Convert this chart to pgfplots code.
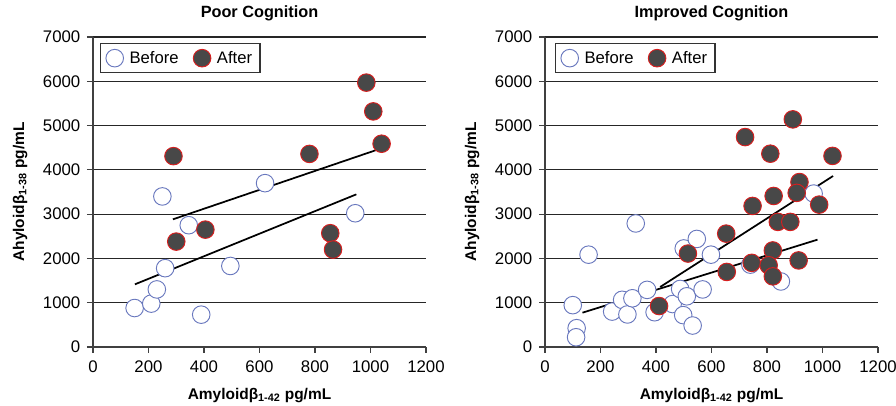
\documentclass[border=0pt]{standalone}
\usepackage{fontspec}
\setmainfont{Liberation Sans}
\usepackage{pgfplots}
\pgfplotsset{compat=1.18}
\newcommand\tickfont{\fontsize{12.6}{14}\selectfont}
\newcommand\legfont{\fontsize{12.5}{14}\selectfont}
\definecolor{beforeblue}{RGB}{105,120,190}
\definecolor{afterfill}{RGB}{72,72,72}
\definecolor{afterred}{RGB}{215,30,30}
\pgfplotsset{
  mystyle/.style={
    scale only axis, width=249.75pt, height=232.5pt,
    xmin=0, xmax=1200, ymin=0, ymax=7000,
    xtick={0,200,...,1200}, ytick={0,1000,...,7000},
    axis x line*=bottom, axis y line*=left,
    axis line style={-, line width=0.8pt, black!75},
    ymajorgrids, grid style={black!85, line width=0.8pt},
    tick style={black!75, line width=0.8pt}, tick align=outside, major tick length=4.5pt,
    /pgf/number format/assume math mode=true,
    /pgf/number format/1000 sep={},
    xticklabel={\tickfont\pgfmathprintnumber{\tick}},
    yticklabel={\tickfont\pgfmathprintnumber{\tick}},
    xticklabel style={yshift=-2pt},
    yticklabel style={xshift=-1.5pt},
    xlabel={\fontsize{11.6}{14}\selectfont\bfseries Amyloidβ\textsubscript{1-42} pg/mL},
    ylabel={\fontsize{11.6}{14}\selectfont\bfseries Ahyloidβ\textsubscript{1-38} pg/mL},
    every axis x label/.style={at={(axis description cs:0.5,-0.155)}, anchor=center},
    every axis y label/.style={at={(axis description cs:-0.219,0.5)}, anchor=center, rotate=90},
    title style={at={(axis description cs:0.5,1.052)}, anchor=center},
    legend columns=2,
    legend style={anchor=north west, draw=black!80, line width=0.9pt, font=\legfont,
      /tikz/every odd column/.append style={column sep=2.5pt},
      /tikz/every even column/.append style={column sep=9pt}, inner xsep=4pt, inner ysep=3.5pt},
    clip=false,
  },
  bef/.style={only marks, mark=*, mark size=6.6pt, mark options={fill=white, draw=beforeblue, line width=0.7pt}},
  aft/.style={only marks, mark=*, mark size=6.6pt, mark options={fill=afterfill, draw=afterred, line width=0.7pt}},
  trend/.style={no marks, black, line width=1.3pt, forget plot},
}
\begin{document}
\begin{tikzpicture}
\useasboundingbox (-69.75pt,-44.25pt) rectangle (602.25pt,260.25pt);
\begin{axis}[mystyle, title={\fontsize{12.2}{14}\selectfont\bfseries Poor Cognition}, legend style={at={(axis description cs:0.021,0.98)}}]
\addplot[bef] coordinates {
(150,880) (210,980) (230,1300) (260,1780) (250,3400) (345,2750) (390,730) (495,1830) (620,3700) (945,3020)};
\addlegendentry{\legfont Before}
\addplot[aft] coordinates {
(290,4310) (300,2380) (405,2650) (780,4360) (855,2570) (865,2200) (985,5970) (1010,5320) (1040,4590)};
\addlegendentry{\legfont After}
\addplot[trend] coordinates {(151,1415) (949,3447)};
\addplot[trend] coordinates {(288,2883) (1046,4501)};
\end{axis}
\begin{axis}[mystyle, xshift=339pt, title={\fontsize{12.2}{14}\selectfont\bfseries Improved Cognition}, legend style={at={(axis description cs:0.03,0.98)}}]
\addplot[bef] coordinates {
(100,945) (114,425) (112,220) (157,2085) (327,2790) (242,800) (278,1065) (297,735) (315,1100)
(368,1290) (395,785) (460,970) (487,1310) (500,2225) (511,1145) (498,720) (532,485) (547,2440)
(568,1300) (598,2085) (740,1860) (850,1480) (968,3465)};
\addlegendentry{\legfont Before}
\addplot[aft] coordinates {
(411,925) (515,2110) (653,2560) (655,1695) (721,4740) (748,3185) (745,1900) (812,4365) (824,3410)
(821,2180) (806,1845) (821,1595) (839,2825) (884,2825) (893,5140) (917,3725) (907,3480) (988,3215)
(914,1955) (1036,4315)};
\addlegendentry{\legfont After}
\addplot[trend] coordinates {(135,775) (982,2424)};
\addplot[trend] coordinates {(415,1355) (1038,3861)};
\end{axis}
\end{tikzpicture}
\end{document}
